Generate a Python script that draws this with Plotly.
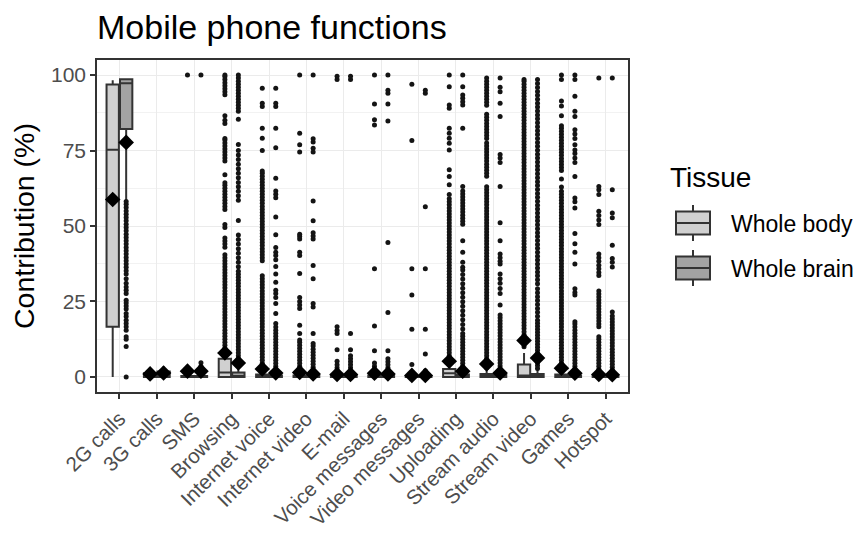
import plotly.graph_objects as go

# ---- data -------------------------------------------------------------
categories = ["2G calls", "3G calls", "SMS", "Browsing", "Internet voice",
              "Internet video", "E-mail", "Voice messages", "Video messages",
              "Uploading", "Stream audio", "Stream video", "Games", "Hotspot"]

tissues = ["Whole body", "Whole brain"]

# box statistics, one value per category
body_q1 = [16.6, 0, 0, 0, 0, 0, 0, 0, 0, 0, 0, 0, 0, 0]
body_median = [75.3, 0.5, 0, 1.5, 0, 0, 0, 0, 0, 1.2, 0, 0.5, 0, 0]
body_q3 = [96.9, 1.2, 0.3, 6.0, 0.8, 0.5, 0.4, 0.5, 0.2, 2.6, 1.0, 4.1, 0.8, 0.5]
body_lower = [0, 0, 0, 0, 0, 0, 0, 0, 0, 0, 0, 0, 0, 0]
body_upper = [98.3, 2.5, 0.8, 9.0, 2.0, 1.2, 1.0, 1.2, 0.5, 6.5, 2.5, 7.9, 2.0, 1.2]
body_mean = [58.8, 1.0, 1.9, 7.9, 2.6, 1.5, 0.8, 1.2, 0.5, 5.2, 4.3, 12.1, 2.9, 0.8]

brain_q1 = [82.1, 0, 0, 0, 0, 0, 0, 0, 0, 0, 0, 0, 0, 0]
brain_median = [97.3, 0.8, 0, 0.2, 0, 0, 0, 0, 0, 0, 0, 0, 0, 0]
brain_q3 = [98.6, 1.8, 0.3, 1.5, 0.5, 0.4, 0.3, 0.4, 0.2, 0.8, 0.6, 1.0, 0.5, 0.4]
brain_lower = [57.7, 0, 0, 0, 0, 0, 0, 0, 0, 0, 0, 0, 0, 0]
brain_upper = [98.6, 3.5, 1.0, 3.5, 1.2, 1.0, 0.7, 1.0, 0.5, 2.0, 1.5, 2.5, 1.2, 1.0]
brain_mean = [77.7, 1.3, 1.9, 4.6, 1.3, 1.0, 0.8, 1.0, 0.5, 1.9, 1.3, 6.3, 1.2, 0.7]

# outlying observations per category
body_outliers = [
    [],
    [],
    [100],
    [9.5, 10.5, 11.5, 12.5, 13.5, 14.5, 15.5, 16.5, 17.5, 18.5, 19.5, 20.5, 21.5,
     22.5, 23.5, 24.5, 25.5, 26.5, 27.5, 28.5, 29.5, 30.5, 31.5, 32.5, 33.5, 34.5,
     35.5, 36.5, 37.5, 38.5, 39.5, 40.5, 43, 44, 45, 46, 49.5, 50.5, 55.5, 56.5,
     57.5, 58.5, 59.5, 60.5, 61.5, 62.5, 63.5, 64.3, 67, 71.5, 72.5, 73.5, 74.5,
     75.5, 76.5, 77.5, 78.5, 79, 84, 85, 86.5, 93.5, 94.5, 95.5, 96.5, 97.5, 98.5,
     99.5, 100],
    [2.5, 3.5, 4.5, 5.5, 6.5, 7.5, 8.5, 9.5, 10.5, 11.5, 12.5, 13.5, 14.5, 15.5,
     16.5, 17.5, 18.5, 19.5, 20.5, 21.5, 22.5, 23.5, 24.5, 25.5, 26.5, 27.5, 28.5,
     29.5, 30.5, 31.5, 32.5, 33.5, 38.5, 39.5, 40.5, 41.5, 42.5, 43.5, 44.5, 45.5,
     46.5, 47.5, 48.5, 49.5, 50.5, 51.5, 52.5, 53.5, 54.5, 55.5, 56.5, 57.5, 58.5,
     59.5, 60.5, 61.5, 62.5, 63.5, 64.5, 65.5, 66.5, 67.5, 68.2, 75.0, 79.1, 82.4,
     89.6, 90.7, 95.6],
    [1.5, 2.5, 3.5, 4.5, 5.5, 6.5, 7.5, 8.5, 9.5, 10.5, 11.5, 12.2, 14.4, 17.1,
     22.7, 23.8, 25.0, 26.3, 34.3, 40.2, 41.3, 45.7, 46.5, 47.3, 74.5, 76.9, 80.7,
     100],
    [1.2, 2.0, 3.0, 4.0, 5.2, 9.0, 14.4, 15.4, 16.6, 98.5, 99.6],
    [1.5, 2.5, 3.5, 4.6, 8.7, 16.9, 35.8, 83.5, 85.2, 90.4, 100],
    [1.0, 1.5, 4.1, 15.8, 27.1, 35.8, 78.3, 97.0],
    [7.0, 8.0, 9.0, 10.0, 11.0, 12.0, 13.0, 14.0, 15.0, 16.0, 17.0, 18.0, 19.0,
     20.0, 21.0, 22.0, 23.0, 24.0, 25.0, 26.0, 27.0, 28.0, 29.0, 30.0, 31.0, 32.0,
     33.0, 34.0, 35.0, 36.0, 37.0, 38.0, 39.0, 40.0, 41.0, 42.0, 43.0, 44.0, 45.0,
     46.0, 47.0, 48.0, 49.0, 50.0, 51.0, 52.0, 53.0, 54.0, 55.0, 56.0, 57.0, 58.0,
     59.0, 60.4, 63.7, 66.4, 68.6, 75.2, 77.4, 79.1, 80.7, 82.4, 89.0, 90.1, 96.1,
     100],
    [3, 4, 5, 6, 7, 8, 9, 10, 11, 12, 13, 14, 15, 16, 17, 18, 19, 20, 21, 22, 23,
     24, 25, 26, 27, 28, 29, 30, 31, 32, 33, 34, 35, 36, 37, 38, 39, 40, 41, 42, 43,
     44, 45, 46, 47, 48, 49, 50, 51, 52, 53, 54, 55, 56, 57, 58, 59, 60, 61, 62, 63,
     66.5, 67.5, 68.5, 69.5, 70.5, 71.5, 72.5, 73.5, 74.5, 75.5, 76.5, 77.5, 79,
     80, 81, 82, 83, 84, 85, 86, 87, 90, 91, 92, 93, 94, 95, 96, 97, 98, 99],
    [10, 11, 12, 13, 14, 15, 16, 17, 18, 19, 20, 21, 22, 23, 24, 25, 26, 27, 28,
     29, 30, 31, 32, 33, 34, 35, 36, 37, 38, 39, 40, 41, 42, 43, 44, 45, 46, 47, 48,
     49, 50, 51, 52, 53, 54, 55, 56, 57, 58, 59, 60, 61, 62, 63, 64, 65, 66, 67, 68,
     69, 70, 71, 72, 73, 74, 75, 76, 77, 78, 79, 80, 81, 82, 83, 84, 85, 86, 87, 88,
     89, 90, 91, 92, 93, 94, 95, 96, 97, 98, 98.5],
    [2.5, 3.5, 4.5, 5.5, 6.5, 7.5, 8.5, 9.5, 10.5, 11.5, 12.5, 13.5, 14.5, 15.5,
     16.5, 17.5, 18.5, 19.5, 20.5, 21.5, 22.5, 23.5, 24.5, 25.5, 26.5, 27.5, 28.5,
     29.5, 30.5, 31.5, 32.5, 33.5, 34.5, 35.5, 36.5, 37.5, 38.5, 39.5, 40.5, 41.5,
     42.5, 43.5, 44.5, 45.5, 46.5, 47.5, 48.5, 49.5, 50.5, 51.5, 52.5, 53.5, 54.5,
     55.5, 56.5, 57.5, 58.5, 59.5, 60.5, 61.5, 62.9, 65.6, 68.4, 69.4, 70.4, 71.4,
     72.4, 73.4, 74.4, 75.4, 76.4, 77.4, 78.4, 79.4, 80.4, 81.4, 82.4, 83.2, 86.5,
     89.8, 91.4, 98.5, 100],
    [1.5, 2.5, 3.5, 4.5, 5.5, 6.5, 7.5, 8.5, 9.5, 10.5, 11.5, 12.5, 13.3, 16.6,
     17.5, 18.5, 19.5, 20.5, 21.5, 22.5, 23.5, 24.5, 25.5, 26.5, 27.5, 28.5, 33.6,
     34.6, 35.8, 37.0, 38.3, 39.5, 40.7, 50.5, 52.0, 53.5, 54.9, 60.4, 62.0, 63.1,
     99],
]

brain_outliers = [
    [0, 10.1, 12.5, 13.3, 15.5, 16.6, 17.7, 18.8, 20.0, 21.0, 22.5, 23.5, 24.5,
     25.4, 27.6, 28.7, 29.8, 31.0, 32.5, 34.1, 35.2, 36.3, 37.4, 38.5, 39.6, 40.7,
     41.8, 42.9, 44.0, 45.1, 46.2, 47.3, 48.4, 49.5, 50.6, 51.7, 52.8, 53.9, 55.0,
     56.1, 57.2, 58.1],
    [],
    [3.5, 4.7, 100],
    [4, 5, 6, 7, 8, 9, 10, 11, 12, 13, 14, 15, 16, 17, 18, 19, 20, 21, 22, 23, 24,
     25, 26, 27, 28, 29, 30, 31, 32, 33, 34, 35, 36.5, 38, 39.5, 41, 42.5, 44, 45.5,
     47, 51.8, 58.5, 60, 61.5, 63, 64.4, 66, 67.5, 69, 70.5, 72, 73.5, 75, 77, 85.4,
     88, 89, 90, 91, 92, 93, 94, 95, 96, 97, 98, 99, 100],
    [1.5, 2.5, 3.5, 4.5, 5.5, 6.5, 7.5, 8.5, 9.5, 10.5, 11.5, 12.5, 13.5, 14.5,
     15.5, 16.5, 17.7, 21.0, 24.3, 26.3, 27.6, 28.7, 31.4, 34.1, 36.6, 38.8, 40.2,
     41.3, 42.9, 47.1, 53.0, 59.4, 60.5, 61.6, 65.8, 75.9, 82.4, 89.6, 90.7, 95.6],
    [1.2, 2.2, 3.2, 4.2, 5.2, 6.2, 7.2, 8.2, 9.2, 10.2, 11.1, 14.4, 23.2, 24.3,
     32.5, 36.9, 45.7, 46.7, 47.8, 51.7, 58.3, 74.5, 75.8, 77.8, 78.9, 100],
    [1.2, 2.0, 3.0, 4.0, 5.0, 6.0, 7.0, 9.0, 14.4, 98.5, 99.6],
    [1.2, 2.0, 3.0, 4.0, 5.0, 6.0, 8.7, 21.3, 44.5, 84.8, 90.4, 94.0, 95.0, 100],
    [1.0, 2.0, 7.6, 15.8, 35.8, 56.4, 94.0, 95.0],
    [2.5, 3.5, 4.5, 5.5, 6.5, 7.5, 8.5, 9.5, 10.5, 11.5, 12.5, 13.5, 14.4, 15.9,
     17.4, 18.9, 20.4, 21.9, 23.4, 24.9, 26.4, 27.9, 29.4, 30.9, 32.4, 33.9, 35.4,
     36.3, 38.0, 41.3, 45.1, 50.6, 51.6, 52.6, 53.6, 54.6, 55.6, 56.6, 57.6, 58.6,
     59.6, 60.6, 61.6, 63.1, 82.4, 90.1, 91.2, 92.3, 93.4, 96.1, 100],
    [1.6, 2.6, 3.6, 4.6, 5.6, 6.6, 7.6, 8.6, 9.6, 10.6, 11.6, 12.6, 13.6, 14.6,
     15.6, 16.6, 17.6, 18.6, 19.6, 20.5, 23.8, 27.6, 29.3, 31.0, 32.5, 34.1, 37.4,
     38.3, 39.5, 40.7, 45.1, 51.1, 63.1, 71.0, 72.5, 73.7, 86.3, 90.7, 94.5, 96.0,
     99.0],
    [2.8, 3.8, 4.8, 5.8, 6.8, 7.8, 8.8, 9.8, 10.8, 11.8, 12.8, 13.8, 14.8, 15.8,
     16.8, 17.8, 18.8, 20.1, 21.4, 22.7, 24.0, 25.3, 26.6, 27.9, 29.2, 30.9, 32.2,
     33.5, 34.8, 36.1, 37.4, 38.7, 40.0, 41.3, 42.6, 43.9, 45.2, 46.5, 47.8, 49.1,
     50.4, 51.7, 53.0, 54.3, 55.6, 56.9, 58.2, 59.5, 60.8, 62.1, 63.4, 64.7, 66.0,
     67.3, 68.6, 69.9, 71.2, 72.5, 73.8, 75.1, 76.4, 77.7, 79.0, 80.3, 81.6, 82.9,
     84.2, 85.5, 86.8, 88.1, 89.4, 90.7, 92.0, 93.3, 94.6, 95.9, 97.2, 98.5],
    [1.5, 2.5, 3.5, 4.5, 5.5, 6.5, 7.5, 8.5, 9.5, 10.5, 11.5, 12.5, 13.5, 14.5,
     15.5, 16.5, 17.5, 18.3, 27.1, 28.0, 29.2, 37.4, 41.3, 44.1, 47.5, 56.0, 58.0,
     59.3, 66.4, 71.0, 72.5, 74.0, 75.2, 76.9, 79.0, 80.5, 81.9, 86.3, 88.0, 93.0,
     98.5, 100],
    [1.2, 2.2, 3.2, 4.2, 5.2, 6.2, 7.2, 8.2, 9.2, 10.2, 11.2, 12.2, 13.2, 14.2,
     15.2, 16.2, 17.2, 18.2, 19.2, 20.2, 21.5, 36.4, 38.0, 39.2, 43.6, 52.7, 54.3,
     62.0, 99],
]

# ---- styling ----------------------------------------------------------
fills = {"Whole body": "#D0D0D0", "Whole brain": "#A3A3A3"}
edge = "#333333"
dodge = 0.18
box_width = 0.33
font_family = "Liberation Sans, Arial, sans-serif"

groups = [
    ("Whole body", -dodge, body_q1, body_median, body_q3, body_lower, body_upper,
     body_mean, body_outliers),
    ("Whole brain", dodge, brain_q1, brain_median, brain_q3, brain_lower,
     brain_upper, brain_mean, brain_outliers),
]

fig = go.Figure()
idx = list(range(len(categories)))

for name, off, q1, med, q3, lo, hi, mean, outl in groups:
    fig.add_trace(go.Box(
        name=name, x=[i + off for i in idx],
        q1=q1, median=med, q3=q3, lowerfence=lo, upperfence=hi,
        width=box_width, whiskerwidth=0, boxpoints=False,
        fillcolor=fills[name], line=dict(color=edge, width=2),
        showlegend=False, hoverinfo="skip",
    ))

for name, off, q1, med, q3, lo, hi, mean, outl in groups:
    xs, ys = [], []
    for i, vals in zip(idx, outl):
        xs += [i + off] * len(vals)
        ys += vals
    fig.add_trace(go.Scatter(
        x=xs, y=ys, mode="markers",
        marker=dict(color="#141414", size=5, line=dict(width=0)),
        showlegend=False, hoverinfo="skip",
    ))

for name, off, q1, med, q3, lo, hi, mean, outl in groups:
    fig.add_trace(go.Scatter(
        x=[i + off for i in idx], y=mean, mode="markers",
        marker=dict(symbol="diamond", color="black", size=12, line=dict(width=0)),
        showlegend=False, hoverinfo="skip",
    ))

# ---- legend drawn as ggplot-style keys ----------------------------------
W, H = 857, 535
L, R, T, B = 97, 229, 60, 143
pw, ph = W - L - R, H - T - B


def px(xp):
    return (xp - L) / pw


def py(yp):
    return 1 - (yp - T) / ph


shapes = []
annotations = [dict(
    text="Tissue", xref="paper", yref="paper", x=px(668), y=py(177),
    xanchor="left", yanchor="middle", showarrow=False,
    font=dict(size=28, color="black", family=font_family))]

for k, name in enumerate(tissues):
    cy = 223 + 45 * k
    x0, x1, xm = 676, 710, 693
    shapes.append(dict(type="line", xref="paper", yref="paper",
                       x0=px(xm), x1=px(xm), y0=py(cy - 18), y1=py(cy + 18),
                       line=dict(color=edge, width=2)))
    shapes.append(dict(type="rect", xref="paper", yref="paper",
                       x0=px(x0), x1=px(x1), y0=py(cy - 11.5), y1=py(cy + 11.5),
                       fillcolor=fills[name], line=dict(color=edge, width=2)))
    shapes.append(dict(type="line", xref="paper", yref="paper",
                       x0=px(x0), x1=px(x1), y0=py(cy), y1=py(cy),
                       line=dict(color=edge, width=2)))
    annotations.append(dict(
        text=name, xref="paper", yref="paper", x=px(729), y=py(cy + 1),
        xanchor="left", yanchor="middle", showarrow=False,
        font=dict(size=23, color="black", family=font_family)))

annotations.append(dict(
    text="Contribution (%)", xref="paper", yref="paper", x=px(24), y=0.5,
    xanchor="center", yanchor="middle", textangle=-90, showarrow=False,
    font=dict(size=28.5, color="black", family=font_family)))

fig.update_layout(
    width=W, height=H,
    margin=dict(l=L, r=R, t=T, b=B, pad=0, autoexpand=False),
    paper_bgcolor="white", plot_bgcolor="white",
    font=dict(family=font_family),
    title=dict(text="Mobile phone functions", xref="paper", x=0, xanchor="left",
               yref="container", y=1 - 27 / H, yanchor="middle",
               font=dict(size=34, color="black", family=font_family)),
    shapes=shapes, annotations=annotations,
    showlegend=False,
)

fig.update_xaxes(
    automargin=False,
    range=[-0.6, len(categories) - 0.4],
    tickmode="array", tickvals=idx, ticktext=categories, tickangle=-45,
    ticks="outside", ticklen=5, tickwidth=1.5, tickcolor=edge,
    tickfont=dict(size=20.5, color="#4D4D4D", family=font_family),
    showgrid=True, gridcolor="#EBEBEB", gridwidth=1.2, zeroline=False,
    showline=True, linecolor=edge, linewidth=1.5, mirror=True,
)
fig.update_yaxes(
    automargin=False,
    range=[-5, 105],
    tickmode="array", tickvals=[0, 25, 50, 75, 100],
    ticks="outside", ticklen=5, tickwidth=1.5, tickcolor=edge,
    tickfont=dict(size=21, color="#4D4D4D", family=font_family),
    showgrid=True, gridcolor="#EBEBEB", gridwidth=1.2, zeroline=False,
    minor=dict(tickvals=[12.5, 37.5, 62.5, 87.5], showgrid=True,
               gridcolor="#F2F2F2", gridwidth=0.8, ticks=""),
    showline=True, linecolor=edge, linewidth=1.5, mirror=True,
)

fig.write_html("out.html")
